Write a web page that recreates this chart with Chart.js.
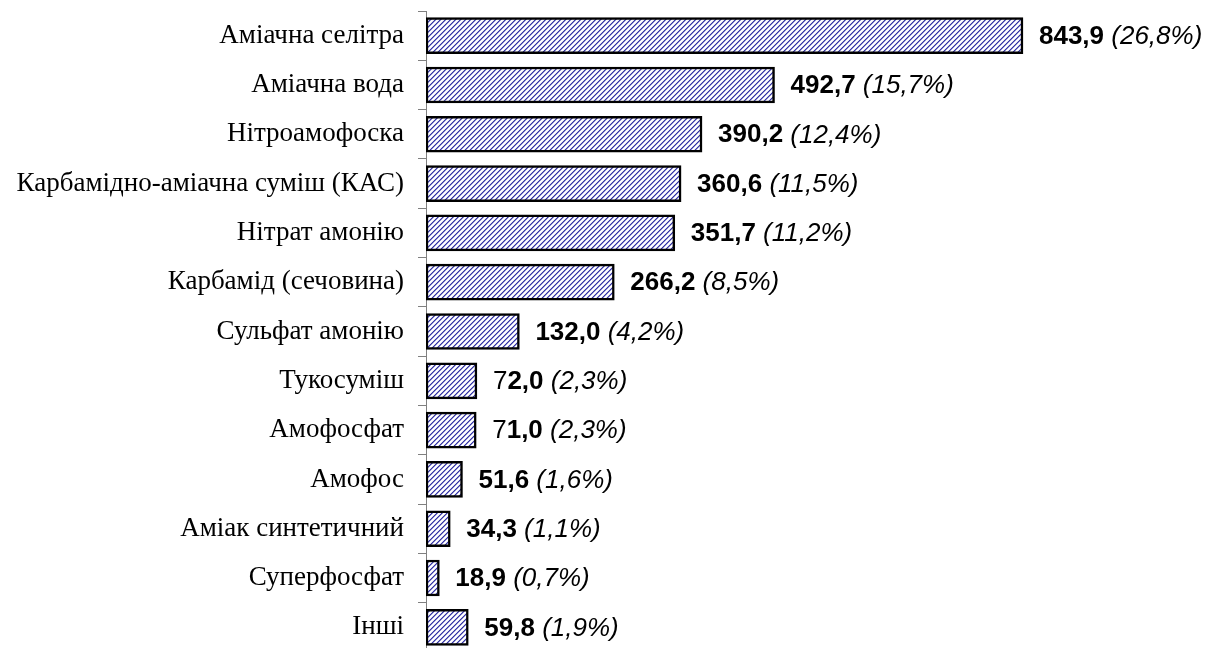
<!DOCTYPE html>
<html>
<head>
<meta charset="utf-8">
<script src="https://cdn.jsdelivr.net/npm/chart.js@4/dist/chart.umd.min.js"></script>
<style>
html,body{margin:0;padding:0;background:#fff;overflow:hidden;}
#wrap{width:1213px;height:656px;position:relative;}
</style>
</head>
<body>
<div id="wrap"><canvas id="c" width="1213" height="656"></canvas></div>
<script>
const categories = [
  "Аміачна селітра",
  "Аміачна вода",
  "Нітроамофоска",
  "Карбамідно-аміачна суміш (КАС)",
  "Нітрат амонію",
  "Карбамід (сечовина)",
  "Сульфат амонію",
  "Тукосуміш",
  "Амофосфат",
  "Амофос",
  "Аміак синтетичний",
  "Суперфосфат",
  "Інші"
];
const values = [843.9, 492.7, 390.2, 360.6, 351.7, 266.2, 132.0, 72.0, 71.0, 51.6, 34.3, 18.9, 59.8];
const shares = [26.8, 15.7, 12.4, 11.5, 11.2, 8.5, 4.2, 2.3, 2.3, 1.6, 1.1, 0.7, 1.9];
// number of leading characters of the value label drawn in regular weight (as in the original)
const regularPrefix = [0, 0, 0, 0, 0, 0, 0, 1, 1, 0, 0, 0, 0];

function fmt(v){ return v.toFixed(1).replace('.', ','); }

function makeHatch(){
  const n = 5;
  const p = document.createElement('canvas');
  p.width = n; p.height = n;
  const g = p.getContext('2d');
  g.fillStyle = '#ffffff';
  g.fillRect(0,0,n,n);
  for(let y=0;y<n;y++){
    const x = (n - 1 - y + n) % n;
    g.fillStyle = '#3636a4';
    g.fillRect(x, y, 1, 1);
    g.fillStyle = '#8c8cd0';
    g.fillRect((x+1)%n, y, 1, 1);
    g.fillStyle = '#dcdcf2';
    g.fillRect((x+n-1)%n, y, 1, 1);
  }
  return document.getElementById('c').getContext('2d').createPattern(p, 'repeat');
}

const valueLabels = {
  id: 'valueLabels',
  afterDatasetsDraw(chart){
    const ctx = chart.ctx;
    const meta = chart.getDatasetMeta(0);
    ctx.save();
    ctx.textBaseline = 'middle';
    ctx.textAlign = 'left';
    ctx.fillStyle = '#000';
    meta.data.forEach((bar, i) => {
      let x = bar.x + 16;
      const y = bar.y + 1;
      const num = fmt(values[i]);
      const reg = num.slice(0, regularPrefix[i]);
      const bold = num.slice(regularPrefix[i]);
      if(reg){
        ctx.font = '26px "Liberation Sans", Arial, sans-serif';
        ctx.fillText(reg, x, y);
        x += ctx.measureText(reg).width;
      }
      ctx.font = 'bold 26px "Liberation Sans", Arial, sans-serif';
      ctx.fillText(bold, x, y);
      x += ctx.measureText(bold + ' ').width;
      ctx.font = 'italic 26px "Liberation Sans", Arial, sans-serif';
      ctx.fillText('(' + fmt(shares[i]) + '%)', x, y);
    });
    ctx.restore();
  }
};

new Chart(document.getElementById('c'), {
  type: 'bar',
  data: {
    labels: categories,
    datasets: [{
      data: values,
      backgroundColor: makeHatch(),
      borderColor: '#000',
      borderWidth: 2.5,
      borderSkipped: false,
      barThickness: 36
    }]
  },
  options: {
    indexAxis: 'y',
    responsive: false,
    animation: false,
    layout: { padding: { top: 11, bottom: 4, left: 0, right: 79.6 } },
    plugins: { legend: { display: false }, tooltip: { enabled: false } },
    scales: {
      x: { display: false, min: 0, max: 1000 },
      y: {
        afterFit(scale){ scale.width = 426; scale.paddingTop = 0; scale.paddingBottom = 0; },
        grid: { drawOnChartArea: false, color: '#808080', tickLength: 8, offset: true },
        border: { color: '#808080', width: 1 },
        ticks: {
          color: '#000',
          padding: 14,
          font: { family: '"Liberation Serif", "Times New Roman", serif', size: 27 }
        }
      }
    }
  },
  plugins: [valueLabels]
});
</script>
</body>
</html>
